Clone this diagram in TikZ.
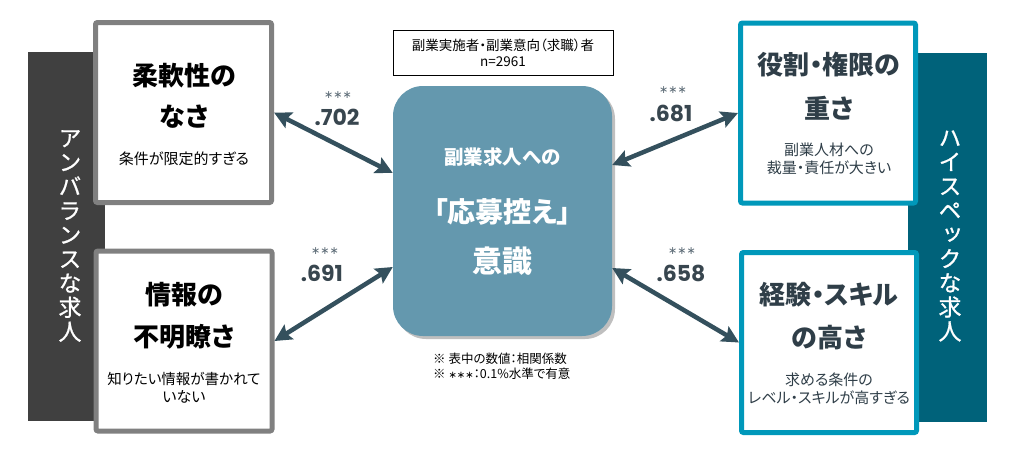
\documentclass[tikz,border=0pt]{standalone}
\usepackage{fontspec}
\setmainfont{Noto Sans CJK JP}[RawFeature=+palt]
\newfontfamily\vfont{Noto Sans CJK JP}[RawFeature=+vert,FakeBold=0.8]
\newfontfamily\numfont{Poppins}
\newfontfamily\starfont{DejaVu Sans}
\usetikzlibrary{arrows.meta,shadows,calc}
\definecolor{lgray}{HTML}{808080}
\definecolor{lbarc}{HTML}{404040}
\definecolor{rbarc}{HTML}{00627A}
\definecolor{rbord}{HTML}{0098BA}
\definecolor{cfill}{HTML}{6498AE}
\definecolor{arrc}{HTML}{34505D}
\definecolor{rtext}{HTML}{2F3E48}
\definecolor{numc}{HTML}{38464F}
\definecolor{starc}{HTML}{5C6B76}
\newcommand\myfs[2]{\fontsize{#1}{#2}\selectfont}
\begin{document}
\begin{tikzpicture}[x=1pt,y=-1pt,
  bar/.style={draw=none,inner sep=0,minimum width=#1},
  vtext/.style={text=white,align=center,inner sep=0,font=\vfont\myfs{23}{24.2}},
  lbox/.style={draw=lgray,line width=5pt,fill=white,rounded corners=2pt,inner sep=0,minimum width=176pt,minimum height=180pt},
  rbox/.style={draw=rbord,line width=5pt,fill=white,rounded corners=2pt,inner sep=0,minimum width=175pt,minimum height=180pt},
  ttl/.style={inner sep=0,font=\myfs{26}{30}\bfseries},
  sub/.style={inner sep=0,font=\myfs{15}{18}},
  ctext/.style={inner sep=0,text=white},
  stars/.style={inner sep=0,text=starc,font=\starfont\myfs{11}{12}},
  num/.style={inner sep=0,text=numc,font=\numfont\bfseries\myfs{22}{24}},
  note/.style={inner sep=0,font=\myfs{12.5}{15.5},anchor=west,align=left},
  conn/.style={draw=arrc,line width=4.5pt,arrows={Stealth[length=17pt,width=17pt,inset=3pt]-Stealth[length=17pt,width=17pt,inset=3pt]}}
]
\useasboundingbox[fill=white] (0,0) rectangle (1015,450);

% side bars
\node[bar=77pt,fill=lbarc,minimum height=369pt] (lbar) at (66.5,236.5) {};
\node[bar=79pt,fill=rbarc,minimum height=369pt] (rbar) at (947.5,237.5) {};
\node[vtext] (lv) at (70,236) {ア\\ン\\バ\\ラ\\ン\\ス\\な\\求\\人};
\node[vtext] (rv) at (950,236) {ハ\\イ\\ス\\ペ\\ッ\\ク\\な\\求\\人};

% boxes
\node[lbox] (lt) at (183.5,112.5) {};
\node[lbox] (lb) at (184,341) {};
\node[rbox] (rt) at (828,113) {};
\node[rbox] (rb) at (829,342.5) {};

% center
\node[fill=cfill,draw=none,rounded corners=30pt,minimum width=219pt,minimum height=250pt,inner sep=0,
  drop shadow={shadow xshift=3pt,shadow yshift=-3pt,fill=black,opacity=0.25}] (c) at (502.5,211) {};
\node[draw=black,line width=0.8pt,minimum width=220pt,minimum height=45pt,inner sep=0,align=center,
  font=\myfs{13.5}{16}] (s) at (503,52.5) {副業実施者・副業意向（求職）者\\n=2961};

% texts left
\node[ttl] (lt1) at (184,76) {柔軟性の};
\node[ttl] (lt2) at (184,117) {なさ};
\node[sub] (lt3) at (184,159) {条件が限定的すぎる};
\node[ttl] (lb1) at (184,295) {情報の};
\node[ttl] (lb2) at (184,337) {不明瞭さ};
\node[sub,font=\myfs{14.5}{18}] (lb3) at (184,379) {知りたい情報が書かれて};
\node[sub] (lb4) at (184,397) {いない};

% texts right
\node[ttl,text=rtext] (rt1) at (829,65) {役割・権限の};
\node[ttl,text=rtext] (rt2) at (829,108) {重さ};
\node[sub,text=rtext] (rt3) at (829,150) {副業人材への};
\node[sub,text=rtext] (rt4) at (829,168) {裁量・責任が大きい};
\node[ttl,text=rtext] (rb1) at (829,295) {経験・スキル};
\node[ttl,text=rtext] (rb2) at (829,338) {の高さ};
\node[sub,text=rtext] (rb3) at (829,380) {求める条件の};
\node[sub,text=rtext] (rb4) at (829,398) {レベル・スキルが高すぎる};

% center texts
\node[ctext,font=\myfs{19.5}{22}\bfseries] (c1) at (502.5,157) {副業求人への};
\node[ctext,font=\myfs{28}{32}\bfseries] (c2) at (502.5,212) {「応募控え」};
\node[ctext,font=\myfs{30}{34}\bfseries] (c3) at (502.5,261) {意識};

% notes
\node[note] (n1) at (433,366) {※ 表中の数値：相関係数\\※ {\starfont\myfs{10}{12}∗∗∗}：0.1\%水準で有意};

% connectors
\draw[conn] (lt.east) -- ($(c.west)+(0,-38)$);
\draw[conn] (lb.east) -- ($(c.west)+(0,56)$);
\draw[conn] ($(c.east)+(0,-46)$) -- (rt.west);
\draw[conn] ($(c.east)+(0,57)$) -- (rb.west);

% labels
\node[stars] (s1) at (338,95) {∗∗∗};
\node[num] (v1) at (337,117) {.702};
\node[stars] (s2) at (325,251) {∗∗∗};
\node[num] (v2) at (322,273) {.691};
\node[stars] (s3) at (673,90) {∗∗∗};
\node[num] (v3) at (671,113) {.681};
\node[stars] (s4) at (682,251) {∗∗∗};
\node[num] (v4) at (681,273) {.658};
\end{tikzpicture}
\end{document}
